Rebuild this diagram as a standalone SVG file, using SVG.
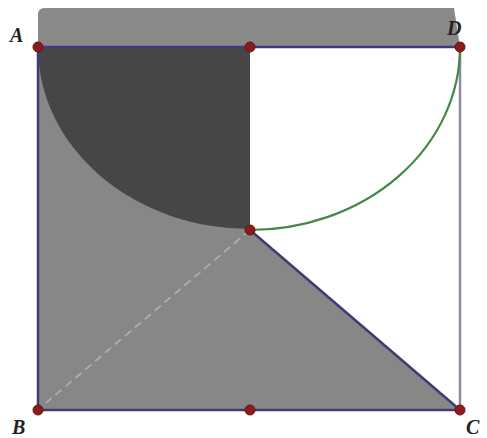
<svg xmlns="http://www.w3.org/2000/svg" width="487" height="438" viewBox="0 0 487 438">
<style>
.lbl{font-family:"Liberation Serif",serif;font-style:italic;font-weight:bold;font-size:20px;fill:#222}
.pt{fill:#8b1c1c;stroke:#6a1010;stroke-width:1}
.edge{stroke:#3c3c78;stroke-width:2.5;fill:none}
</style>
<rect width="487" height="438" fill="#fff"/>
<g id="shading">
<path d="M38,47 L38,13 Q39,8 45,8 L454,8 L460,47 Z" fill="#898989"/>
<path d="M38,47 L250,47 L250,230 L460,410 L38,410 Z" fill="#878787"/>
<path d="M38,47 L250,47 L250,229 A212,182 0 0 1 38,47 Z" fill="#464646"/>
</g>
<g id="connectors">
<line x1="250" y1="230" x2="40" y2="408" stroke="#b4b4b4" stroke-width="1.5" stroke-dasharray="8,5"/>
<line class="edge" x1="38" y1="47" x2="460" y2="47"/>
<line class="edge" x1="38" y1="47" x2="38" y2="410"/>
<line class="edge" x1="38" y1="410" x2="460" y2="410"/>
<line x1="460" y1="47" x2="460" y2="410" stroke="#8a8aa6" stroke-width="2.5"/>
<line class="edge" x1="250" y1="230" x2="460" y2="410"/>
<path d="M460,47 A210,183 0 0 1 250,230" fill="none" stroke="#3f8a45" stroke-width="2.2"/>
</g>
<g id="A"><circle class="pt" cx="38" cy="47" r="5"/><text class="lbl" x="10" y="42">A</text></g>
<g id="M"><circle class="pt" cx="250" cy="47" r="5"/></g>
<g id="D"><circle class="pt" cx="460" cy="47" r="5"/><text class="lbl" x="447" y="35">D</text></g>
<g id="O"><circle class="pt" cx="250" cy="230" r="5"/></g>
<g id="B"><circle class="pt" cx="38" cy="410" r="5"/><text class="lbl" x="12" y="434">B</text></g>
<g id="N"><circle class="pt" cx="250" cy="410" r="5"/></g>
<g id="C"><circle class="pt" cx="460" cy="410" r="5"/><text class="lbl" x="466" y="434">C</text></g>
</svg>
